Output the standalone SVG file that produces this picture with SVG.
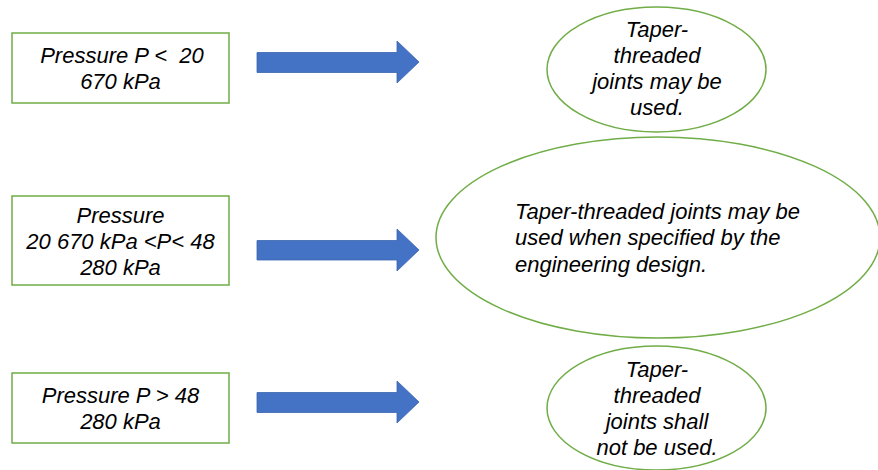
<svg xmlns="http://www.w3.org/2000/svg" width="878" height="470" viewBox="0 0 878 470">
<style>
.box{fill:#fff;stroke:#70AD47;stroke-width:1.5}
.ell{fill:#fff;stroke:#70AD47;stroke-width:1.5}
.arr{fill:#4472C4;stroke:#3B65B0;stroke-width:0.8}
text{font-family:"Liberation Sans",Arial,sans-serif;font-style:italic;font-size:22px;fill:#000}
.c{text-anchor:middle}
</style>
<rect width="878" height="470" fill="#fff"/>
<g id="box1"><rect class="box" x="12" y="33" width="217" height="70"/>
<text class="c"><tspan x="122" y="63">Pressure P &lt; &#160;20</tspan><tspan x="120.5" y="89">670 kPa</tspan></text></g>
<g id="box2"><rect class="box" x="12" y="196" width="217" height="89"/>
<text class="c"><tspan x="120.5" y="223">Pressure</tspan><tspan x="120.5" y="249">20 670 kPa &lt;P&lt; 48</tspan><tspan x="120.5" y="275">280 kPa</tspan></text></g>
<g id="box3"><rect class="box" x="12" y="373" width="217" height="70"/>
<text class="c"><tspan x="120.5" y="403">Pressure P &gt; 48</tspan><tspan x="120.5" y="429">280 kPa</tspan></text></g>
<g id="ell1"><ellipse class="ell" cx="656.5" cy="69.5" rx="109.5" ry="62.5"/>
<text class="c"><tspan x="657" y="37">Taper-</tspan><tspan x="657" y="63">threaded</tspan><tspan x="657" y="89">joints may be</tspan><tspan x="657" y="115">used.</tspan></text></g>
<g id="ell2"><ellipse class="ell" cx="658" cy="237.5" rx="222" ry="100.5"/>
<text><tspan x="515" y="219">Taper-threaded joints may be</tspan><tspan x="515" y="245">used when specified by the</tspan><tspan x="515" y="272">engineering design.</tspan></text></g>
<g id="ell3"><ellipse class="ell" cx="656.5" cy="408" rx="109.5" ry="62"/>
<text class="c"><tspan x="657" y="377">Taper-</tspan><tspan x="657" y="403">threaded</tspan><tspan x="657" y="429">joints shall</tspan><tspan x="657" y="455">not be used.</tspan></text></g>
<g id="connectors">
<polygon class="arr" points="257,52.5 397,52.5 397,41 419,62 397,83 397,72.5 257,72.5"/>
<polygon class="arr" points="257,240.5 397,240.5 397,229 419,250 397,271 397,260 257,260"/>
<polygon class="arr" points="257,392.5 397,392.5 397,381 419,402 397,423 397,412.5 257,412.5"/>
</g>
</svg>
